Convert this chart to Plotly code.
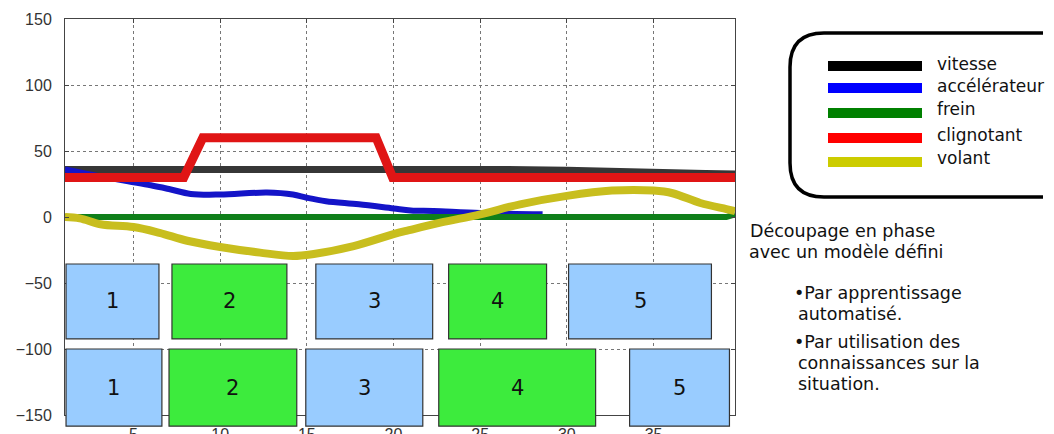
import plotly.graph_objects as go

# ---------------- data ----------------
x_vitesse = [1.05, 3, 6, 10, 15, 20, 23, 26, 30, 33, 36, 38, 39.7]
vitesse = [36, 36, 36, 36.5, 36.5, 36.5, 37, 36, 35.5, 35, 34, 33, 32.5]

x_accel = [1.05, 3, 4.7, 6, 7.1, 8.3, 10, 12.7, 14.2, 15, 16.1, 18, 20, 21, 22.3, 25, 28.6]
accel = [36, 31, 27, 24, 21, 17.5, 17, 18.5, 17, 14.6, 12, 9.6, 6.5, 5, 4.5, 3, 2]

x_frein = [1.05, 39.2, 39.7]
frein = [0, 0, 2]

x_clign = [1.05, 7.9, 9.0, 19.0, 19.95, 39.7]
clign = [30, 30, 60, 60, 30, 30]

x_volant = [1.05, 1.9, 3.1, 5, 6.5, 8.1, 10, 12.3, 14.2, 15.4, 17.7, 20, 20.9,
            22.7, 25, 27.3, 30, 32.6, 35, 36.1, 37.7, 39.2, 39.7]
volant = [0, -1, -5.5, -7.6, -12, -18, -22.7, -27, -29.5, -28, -22, -13, -10,
          -4.3, 2, 9.6, 16, 20, 20, 18, 10.6, 6, 4.5]

series_names = ["vitesse", "accélérateur", "frein", "clignotant", "volant"]
series_x = [x_vitesse, x_accel, x_frein, x_clign, x_volant]
series_y = [vitesse, accel, frein, clign, volant]
line_colors = ["#363636", "#1414c8", "#0f7f1a", "#e01515", "#c8be1e"]
legend_colors = ["#000000", "#0000ff", "#008000", "#ff0000", "#cccc00"]
line_widths = [7, 6, 6, 9, 8]
line_shapes = ["linear", "spline", "linear", "linear", "spline"]

phase_labels = ["1", "2", "3", "4", "5"]
phase_colors = ["#99ccff", "#3deb3d", "#99ccff", "#3deb3d", "#99ccff"]
row1_start = [1.11, 7.22, 15.52, 23.18, 30.1]
row1_end = [6.47, 13.85, 22.26, 28.83, 38.34]
row1_top, row1_bottom = -35.6, -92.4
row2_start = [1.11, 7.05, 14.94, 22.61, 33.62]
row2_end = [6.64, 14.42, 21.69, 31.66, 39.38]
row2_top, row2_bottom = -100.0, -158.5

x_ticks = [5, 10, 15, 20, 25, 30, 35]
y_ticks = [-150, -100, -50, 0, 50, 100, 150]

right_lines = ["Découpage en phase", "avec un modèle défini",
               "•Par apprentissage", "automatisé.",
               "•Par utilisation des", "connaissances sur la", "situation."]

# ---------------- layout geometry ----------------
OFF = 8                      # default page margin around the figure
W, H = 1054 - OFF, 434 - OFF
ML, MT = 65 - OFF, 19 - OFF  # plot area at page x 65..735, y 19..415
MR = W - (735 - OFF)
MB = H - (415 - OFF)
XR = [1.05, 39.7]
YR = [-150, 150]
PW = W - ML - MR
PH = H - MT - MB


def pxx(px):
    """page pixel x -> paper fraction"""
    return (px - OFF - ML) / PW


def pxy(py):
    """page pixel y -> paper fraction"""
    return (OFF + H - MB - py) / PH


def dx(v):
    return (v - XR[0]) / (XR[1] - XR[0])


def dy(v):
    return (v - YR[0]) / (YR[1] - YR[0])


fig = go.Figure()
for name, xs, ys, c, w, sh in zip(series_names, series_x, series_y,
                                  line_colors, line_widths, line_shapes):
    fig.add_trace(go.Scatter(x=xs, y=ys, mode="lines", name=name,
                             line=dict(color=c, width=w, shape=sh),
                             showlegend=False, hoverinfo="skip"))

shapes = []
annotations = []

# phase boxes
for starts, ends, top, bot in [(row1_start, row1_end, row1_top, row1_bottom),
                               (row2_start, row2_end, row2_top, row2_bottom)]:
    for s, e, lab, col in zip(starts, ends, phase_labels, phase_colors):
        shapes.append(dict(type="rect", xref="paper", yref="paper",
                           x0=dx(s), x1=dx(e), y0=dy(bot), y1=dy(top),
                           fillcolor=col, line=dict(color="#333333", width=1.2),
                           layer="above"))
        annotations.append(dict(xref="paper", yref="paper",
                                x=dx((s + e) / 2), y=dy((top + bot) / 2),
                                text=lab, showarrow=False,
                                xanchor="center", yanchor="middle",
                                font=dict(family="DejaVu Sans", size=21, color="#111111")))

# legend box (rounded, clipped on right)
L, T, B, R, rad = 790, 33, 197, 1043, 34
path = (f"M {pxx(R)},{pxy(T)} L {pxx(L + rad)},{pxy(T)} "
        f"Q {pxx(L)},{pxy(T)} {pxx(L)},{pxy(T + rad)} "
        f"L {pxx(L)},{pxy(B - rad)} "
        f"Q {pxx(L)},{pxy(B)} {pxx(L + rad)},{pxy(B)} "
        f"L {pxx(R)},{pxy(B)}")
shapes.append(dict(type="path", xref="paper", yref="paper", path=path,
                   line=dict(color="#000000", width=3.5), layer="above"))

leg_sample_y = [66, 88, 113, 138, 162]
leg_text_y = [64, 86, 109, 135, 158]
for name, col, sy, ty in zip(series_names, legend_colors, leg_sample_y, leg_text_y):
    shapes.append(dict(type="line", xref="paper", yref="paper",
                       x0=pxx(828), x1=pxx(922), y0=pxy(sy), y1=pxy(sy),
                       line=dict(color=col, width=10), layer="above"))
    annotations.append(dict(xref="paper", yref="paper", x=pxx(935), y=pxy(ty),
                            text=name, showarrow=False, xanchor="left",
                            yanchor="middle",
                            font=dict(family="DejaVu Sans", size=17, color="#111111")))

# right-hand text
right_x = [749, 748, 793, 797, 793, 797, 797]
right_y = [231, 252, 293, 314, 342, 363, 384]
for t, rx, ry in zip(right_lines, right_x, right_y):
    annotations.append(dict(xref="paper", yref="paper", x=pxx(rx), y=pxy(ry),
                            text=t, showarrow=False, xanchor="left",
                            yanchor="middle", borderpad=0,
                            font=dict(family="DejaVu Sans", size=17.5, color="#111111")))

axis_common = dict(showline=True, linecolor="#444444", linewidth=1, mirror="allticks",
                   ticks="inside", ticklen=4, tickcolor="#444444",
                   showgrid=True, gridcolor="#777777", griddash="dot", gridwidth=1,
                   zeroline=False, automargin=False,
                   tickfont=dict(family="Liberation Sans", size=16, color="#333333"))

fig.update_layout(
    width=W, height=H, autosize=False,
    margin=dict(l=ML, r=MR, t=MT, b=MB, pad=0, autoexpand=False),
    paper_bgcolor="#ffffff", plot_bgcolor="#ffffff",
    xaxis=dict(range=XR, tickvals=x_ticks, ticklabelstandoff=5, **axis_common),
    yaxis=dict(range=YR, tickvals=y_ticks, ticklabelstandoff=9, **axis_common),
    shapes=shapes, annotations=annotations,
    showlegend=False, hovermode=False,
)

fig.write_html("out.html", config=dict(displayModeBar=False, staticPlot=True))
